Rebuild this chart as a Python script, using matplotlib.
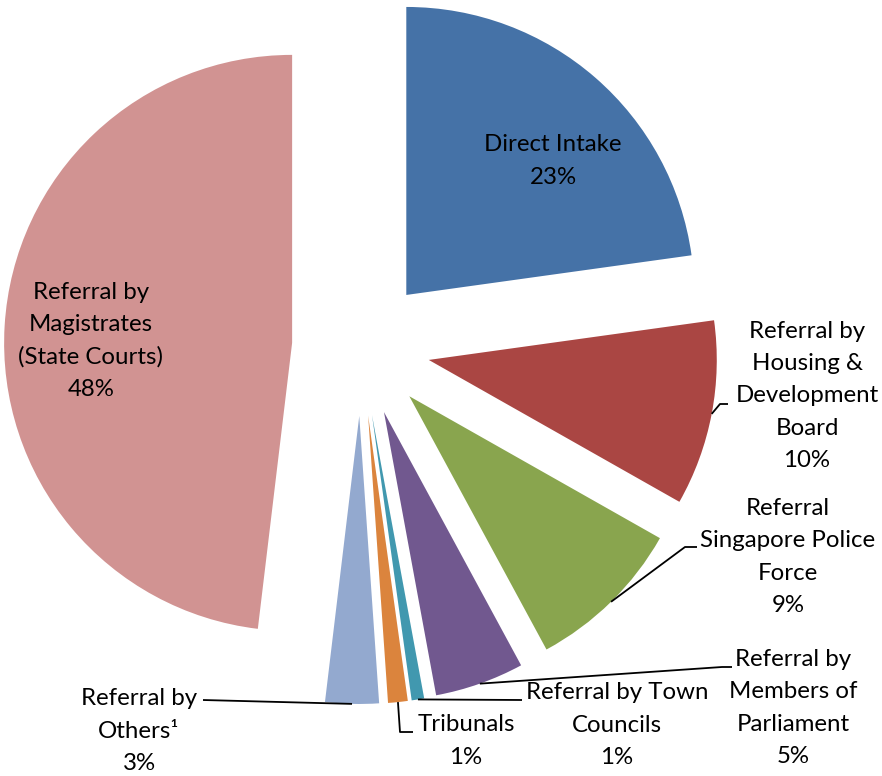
import numpy as np
import matplotlib
matplotlib.use("Agg")
import matplotlib.pyplot as plt

# ---- data ----
categories = [
    "Direct Intake",
    "Referral by\nHousing &\nDevelopment\nBoard",
    "Referral\nSingapore Police\nForce",
    "Referral by\nMembers of\nParliament",
    "Referral by Town\nCouncils",
    "Tribunals",
    "Referral by\nOthers\u00b9",
    "Referral by\nMagistrates\n(State Courts)",
]
values = [22.8, 10.4, 8.9, 5.0, 0.7, 1.1, 3.0, 48.1]
colors = ["#4572A7", "#AA4643", "#89A54E", "#71588F", "#4198AF", "#DB843D", "#93A9CF", "#D19392"]

# ---- layout (pixel space, y measured from top) ----
W, H = 882, 776
CX, CY = 361, 347
R = 288
EXPL = 69

# label centres and leader polylines (elbow + end), in pixels
label_pos = [
    (553, 161),   # Direct Intake (inside)
    (807, 396),
    (788, 557),
    (793, 708),
    (617, 725),
    (466, 741),
    (139, 731),
    (91, 341),    # Magistrates (inside)
]
leaders = [
    None,
    [(720, 404), (728, 404)],
    [(685, 547), (697, 547)],
    [(722, 667), (732, 667)],
    [(522, 700)],
    [(400, 732), (413, 732)],
    [(203, 700)],
    None,
]

plt.rcParams["font.family"] = ["Lato", "DejaVu Sans"]

fig = plt.figure(figsize=(W / 100, H / 100), dpi=100)
ax = fig.add_axes([0, 0, 1, 1])

wedges, _ = ax.pie(
    values,
    colors=colors,
    startangle=90,
    counterclock=False,
    radius=R,
    center=(CX, H - CY),
    explode=[EXPL] * len(values),
    wedgeprops=dict(linewidth=0),
    frame=True,
)
ax.set_xlim(0, W)
ax.set_ylim(0, H)
ax.set_aspect("equal")
ax.axis("off")

FS = 17.3
for i, (w, cat, v) in enumerate(zip(wedges, categories, values)):
    lx, ly = label_pos[i]
    ax.text(lx, H - ly, f"{cat}\n{v:.0f}%", ha="center", va="center",
            multialignment="center", fontsize=FS, linespacing=1.66, color="black")
    if leaders[i] is not None:
        th = np.deg2rad((w.theta1 + w.theta2) / 2)
        ax0 = w.center[0] + R * np.cos(th)
        ay0 = w.center[1] + R * np.sin(th)
        xs = [ax0] + [p[0] for p in leaders[i]]
        ys = [ay0] + [H - p[1] for p in leaders[i]]
        ax.plot(xs, ys, color="black", lw=1.3, solid_capstyle="butt")

fig.savefig("out.png", dpi=100)
